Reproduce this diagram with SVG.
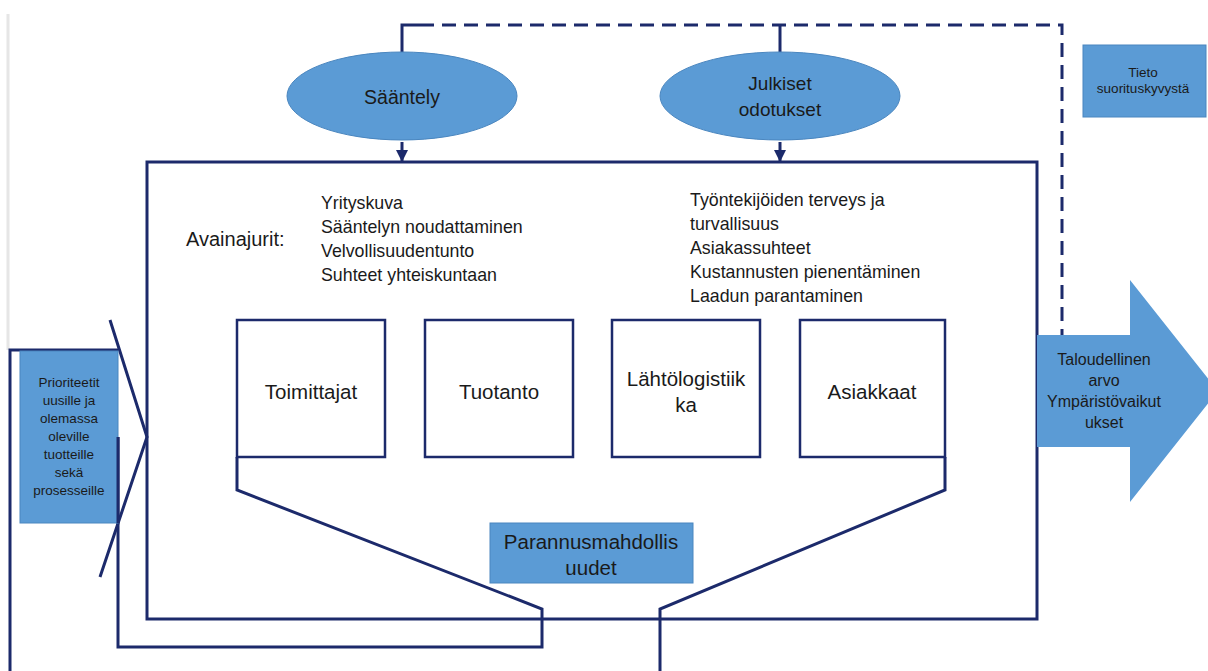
<svg xmlns="http://www.w3.org/2000/svg" width="1208" height="671" viewBox="0 0 1208 671">
<defs>
<style>
.ln{fill:none;stroke:#1c2a6b;stroke-width:3}
.bx{fill:#fff;stroke:#1c2a6b;stroke-width:2.5}
.bl{fill:#5b9bd5;stroke:#4a86bf;stroke-width:1}
.t{font-family:"Liberation Sans",Arial,sans-serif;fill:#1a1a1a}
.c{text-anchor:middle}
</style>
<marker id="ah" viewBox="0 0 10 10" refX="10" refY="5" markerWidth="4" markerHeight="4" orient="auto"><path d="M0,0L10,5L0,10z" fill="#1c2a6b"/></marker>
</defs>
<rect width="1208" height="671" fill="#fff"/>
<line x1="8" y1="14" x2="8" y2="350" stroke="#e6e6e6" stroke-width="3"/>
<g id="connectors">
<path class="ln" d="M402,52V25H420"/>
<path class="ln" d="M420,25H1062V335" stroke-dasharray="14,8"/>
<path class="ln" d="M780,52V25"/>
<path class="ln" d="M402,142V162" marker-end="url(#ah)"/>
<path class="ln" d="M780,142V162" marker-end="url(#ah)"/>
<path class="ln" d="M10,671V350H118"/>
<path class="ln" d="M110,320L147,437L100,577"/>
<path class="ln" d="M118,437V647H542V609L237,490V457"/>
<path class="ln" d="M945,457V490L660,609V671"/>
</g>
<g id="main">
<rect class="ln" x="147" y="162" width="890" height="457"/>
<text class="t" x="186" y="246" font-size="20">Avainajurit:</text>
<text class="t" font-size="17.8"><tspan x="321" y="209">Yrityskuva</tspan><tspan x="321" y="233">Sääntelyn noudattaminen</tspan><tspan x="321" y="257">Velvollisuudentunto</tspan><tspan x="321" y="281">Suhteet yhteiskuntaan</tspan></text>
<text class="t" font-size="17.8"><tspan x="690" y="206">Työntekijöiden terveys ja</tspan><tspan x="690" y="230">turvallisuus</tspan><tspan x="690" y="254">Asiakassuhteet</tspan><tspan x="690" y="278">Kustannusten pienentäminen</tspan><tspan x="690" y="302">Laadun parantaminen</tspan></text>
</g>
<g id="saantely"><ellipse class="bl" cx="402" cy="96" rx="115" ry="44"/><text class="t c" x="402" y="104" font-size="19.5">Sääntely</text></g>
<g id="julkiset"><ellipse class="bl" cx="780" cy="96" rx="120" ry="44"/><text class="t c" x="780" y="90" font-size="19">Julkiset</text><text class="t c" x="780" y="116" font-size="19">odotukset</text></g>
<g id="tieto"><rect class="bl" x="1083" y="45" width="123" height="72"/><text class="t c" x="1143" y="77" font-size="13.5">Tieto</text><text class="t c" x="1143" y="93" font-size="13.5">suorituskyvystä</text></g>
<g id="arvo"><path d="M1037,335H1130V280L1218,391L1130,502V447H1037z" fill="#5b9bd5"/><text class="t c" font-size="16"><tspan x="1104" y="365">Taloudellinen</tspan><tspan x="1104" y="386">arvo</tspan><tspan x="1104" y="407">Ympäristövaikut</tspan><tspan x="1104" y="428">ukset</tspan></text></g>
<g id="prioriteetit"><rect class="bl" x="20" y="351" width="98" height="172"/><text class="t c" font-size="13.5"><tspan x="69" y="387">Prioriteetit</tspan><tspan x="69" y="405">uusille ja</tspan><tspan x="69" y="423">olemassa</tspan><tspan x="69" y="441">oleville</tspan><tspan x="69" y="459">tuotteille</tspan><tspan x="69" y="477">sekä</tspan><tspan x="69" y="495">prosesseille</tspan></text></g>
<line x1="118" y1="437" x2="118" y2="523" class="ln"/>
<g id="toimittajat"><rect class="bx" x="237" y="320" width="148" height="137"/><text class="t c" x="311" y="399" font-size="20.5">Toimittajat</text></g>
<g id="tuotanto"><rect class="bx" x="425" y="320" width="148" height="137"/><text class="t c" x="499" y="399" font-size="20.5">Tuotanto</text></g>
<g id="lahtologistiikka"><rect class="bx" x="612" y="320" width="148" height="137"/><text class="t c" x="686" y="386" font-size="20.5">Lähtölogistiik</text><text class="t c" x="686" y="412" font-size="20.5">ka</text></g>
<g id="asiakkaat"><rect class="bx" x="800" y="320" width="145" height="137"/><text class="t c" x="872" y="399" font-size="20.5">Asiakkaat</text></g>
<g id="parannus"><rect class="bl" x="490" y="523" width="203" height="60"/><text class="t c" x="591" y="549" font-size="20.5">Parannusmahdollis</text><text class="t c" x="591" y="575" font-size="20.5">uudet</text></g>
</svg>
